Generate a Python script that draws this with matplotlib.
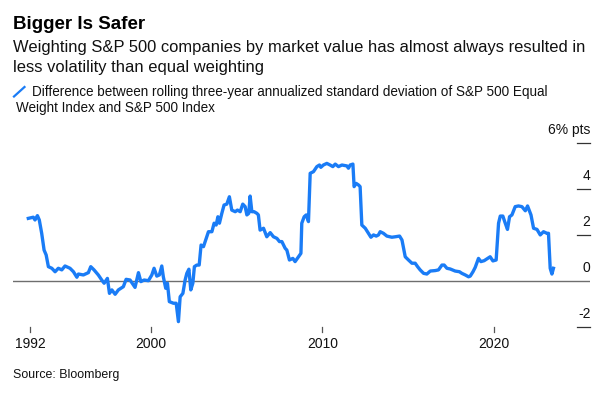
import matplotlib
matplotlib.use("Agg")
import matplotlib.pyplot as plt
from matplotlib.lines import Line2D
import matplotlib.transforms as mtransforms

plt.rcParams['font.family'] = ['Liberation Sans', 'DejaVu Sans']

# ---- data (decimal year, percentage points) ----
years = [1992.86, 1993.15, 1993.25, 1993.39, 1993.50, 1993.64, 1993.78, 1993.90, 1994.03, 1994.23,
         1994.42, 1994.61, 1994.81, 1995.00, 1995.29, 1995.49, 1995.69, 1995.78, 1996.07, 1996.36,
         1996.50, 1996.69, 1996.94, 1997.14, 1997.28, 1997.47, 1997.59, 1997.73, 1997.92, 1998.11,
         1998.40, 1998.56, 1998.79, 1999.08, 1999.28, 1999.42, 1999.61, 1999.86, 2000.06, 2000.19,
         2000.35, 2000.50, 2000.64, 2000.73, 2000.87, 2000.97, 2001.08, 2001.32, 2001.48, 2001.61,
         2001.71, 2001.87, 2002.00, 2002.10, 2002.22, 2002.33, 2002.45, 2002.54, 2002.68, 2002.82,
         2002.93, 2003.07, 2003.17, 2003.36, 2003.56, 2003.69, 2003.81, 2003.91, 2004.00, 2004.14,
         2004.27, 2004.43, 2004.58, 2004.72, 2004.92, 2005.05, 2005.21, 2005.36, 2005.50, 2005.60,
         2005.71, 2005.79, 2005.89, 2006.02, 2006.18, 2006.27, 2006.37, 2006.57, 2006.76, 2006.96,
         2007.15, 2007.35, 2007.50, 2007.64, 2007.83, 2007.93, 2008.08, 2008.28, 2008.41, 2008.61,
         2008.75, 2008.80, 2008.94, 2009.06, 2009.19, 2009.29, 2009.48, 2009.68, 2009.83, 2009.91,
         2010.06, 2010.26, 2010.45, 2010.61, 2010.75, 2010.94, 2011.14, 2011.43, 2011.52, 2011.62,
         2011.78, 2011.85, 2011.97, 2012.11, 2012.20, 2012.30, 2012.50, 2012.69, 2012.83, 2012.98,
         2013.14, 2013.27, 2013.37, 2013.56, 2013.76, 2014.05, 2014.25, 2014.50, 2014.64, 2014.83,
         2015.02, 2015.22, 2015.41, 2015.55, 2015.70, 2015.90, 2016.09, 2016.29, 2016.58, 2016.77,
         2016.97, 2017.10, 2017.26, 2017.45, 2017.74, 2017.99, 2018.13, 2018.33, 2018.52, 2018.62,
         2018.78, 2018.91, 2019.10, 2019.24, 2019.43, 2019.63, 2019.78, 2019.94, 2020.13, 2020.27,
         2020.37, 2020.52, 2020.66, 2020.79, 2020.91, 2021.05, 2021.24, 2021.43, 2021.63, 2021.83,
         2021.96, 2022.16, 2022.31, 2022.51, 2022.70, 2022.89, 2023.09, 2023.18, 2023.28, 2023.38,
         2023.47]
diff_pts = [2.71, 2.76, 2.64, 2.83, 2.64, 2.06, 1.33, 1.12, 0.61, 0.54,
            0.39, 0.54, 0.47, 0.64, 0.54, 0.39, 0.15, 0.29, 0.25, 0.35,
            0.61, 0.47, 0.25, 0.03, -0.11, 0.10, -0.55, -0.40, -0.59, -0.40,
            -0.26, 0.06, 0.03, -0.29, 0.35, -0.04, 0.03, 0.00, 0.25, 0.54,
            0.20, 0.25, 0.64, 0.17, -0.33, -0.11, -0.91, -0.98, -0.98, -1.78,
            -0.70, -0.55, 0.03, 0.32, 0.50, -0.40, -0.11, 0.61, 0.68, 0.68,
            1.55, 1.48, 1.70, 2.13, 2.13, 2.50, 2.42, 2.78, 2.50, 2.93,
            3.29, 3.33, 3.65, 3.07, 3.00, 3.07, 3.00, 3.33, 3.22, 2.86,
            2.93, 3.68, 3.00, 3.00, 2.93, 2.86, 2.20, 2.28, 1.91, 2.09,
            1.91, 1.84, 1.70, 1.70, 1.41, 1.33, 0.90, 0.97, 0.83, 1.04,
            1.19, 2.50, 2.78, 2.86, 2.57, 4.67, 4.74, 4.96, 5.03, 4.93,
            5.03, 5.10, 5.03, 4.96, 5.07, 4.96, 5.03, 4.99, 4.89, 5.03,
            5.07, 4.09, 4.23, 4.16, 4.09, 2.42, 2.28, 2.06, 1.89, 1.99,
            1.94, 1.99, 2.13, 2.06, 1.94, 1.89, 1.91, 1.94, 1.77, 1.04,
            0.90, 0.76, 0.76, 0.61, 0.47, 0.32, 0.29, 0.42, 0.44, 0.47,
            0.68, 0.68, 0.54, 0.51, 0.42, 0.39, 0.32, 0.25, 0.17, 0.20,
            0.39, 0.58, 0.97, 0.83, 0.87, 0.97, 1.04, 0.86, 0.90, 2.50,
            2.81, 2.81, 2.50, 2.23, 2.78, 2.86, 3.22, 3.25, 3.22, 3.04,
            3.25, 2.86, 2.28, 2.23, 1.99, 2.13, 2.06, 2.06, 0.54, 0.29,
            0.54]

x_tick_pos = [1992.96, 2000, 2010, 2020]
x_tick_labels = ["1992", "2000", "2010", "2020"]
y_tick_vals = [-2, 0, 2, 4, 6]
y_tick_labels = ["-2", "0", "2", "4", "6% pts"]

title = "Bigger Is Safer"
subtitle_l1 = "Weighting S&P 500 companies by market value has almost always resulted in"
subtitle_l2 = "less volatility than equal weighting"
legend_l1 = "Difference between rolling three-year annualized standard deviation of S&P 500 Equal"
legend_l2 = "Weight Index and S&P 500 Index"
source = "Source: Bloomberg"

BLUE = "#1a7cf6"
W, H = 612, 397

fig = plt.figure(figsize=(W / 100, H / 100), dpi=100)
fig.patch.set_facecolor("white")

ax = fig.add_axes([12.7 / W, 1 - 338.2 / H, 577.3 / W, (338.2 - 131.2) / H])
ax.set_xlim(1991.95, 2025.6)
ax.set_ylim(-2.5, 6.5)
for s in ax.spines.values():
    s.set_visible(False)
ax.set_xticks([])
ax.set_yticks([])
ax.patch.set_alpha(0)

# zero line
ax.axhline(0, color="#6e6e6e", lw=1.0, zorder=1)

# series
ax.plot(years, diff_pts, color=BLUE, lw=2.4, solid_joinstyle="round", zorder=3)

# y ticks: short dashes at right with labels above
trans_y = mtransforms.blended_transform_factory(ax.transAxes, ax.transData)
for v, lab in zip(y_tick_vals, y_tick_labels):
    if v != 0:
        ax.plot([0.9775, 1.0], [v, v], color="#333333", lw=0.9, transform=trans_y, clip_on=False)
    ax.text(1.001, v + 0.36, lab, transform=trans_y, ha="right", va="baseline",
            fontsize=10, color="#111111")

# x ticks
trans_xf = mtransforms.blended_transform_factory(ax.transData, fig.transFigure)
for xp, lab in zip(x_tick_pos, x_tick_labels):
    ax.plot([xp, xp], [1 - 326.7 / H, 1 - 332 / H], color="#555555", lw=0.9,
            transform=trans_xf, clip_on=False)
    ax.text(xp, 1 - 344 / H, lab, transform=trans_xf,
            ha="center", va="center", fontsize=10, color="#111111")

# texts
fig.text(13 / W, 1 - 29.3 / H, title, fontsize=13.5, fontweight="bold", va="baseline", ha="left", color="#000000")
fig.text(13 / W, 1 - 52.3 / H, subtitle_l1, fontsize=11.9, va="baseline", ha="left", color="#111111")
fig.text(13 / W, 1 - 71.7 / H, subtitle_l2, fontsize=11.9, va="baseline", ha="left", color="#111111")
fig.text(31.5 / W, 1 - 96 / H, legend_l1, fontsize=9.75, va="baseline", ha="left", color="#111111")
fig.text(15.5 / W, 1 - 111.7 / H, legend_l2, fontsize=9.75, va="baseline", ha="left", color="#111111")
fig.add_artist(Line2D([14 / W, 24.5 / W], [1 - 96.5 / H, 1 - 87 / H], color=BLUE, lw=1.6,
                      transform=fig.transFigure))
fig.text(13 / W, 1 - 378.3 / H, source, fontsize=8.9, va="baseline", ha="left", color="#111111")

fig.savefig("out.png", dpi=100, facecolor="white")
